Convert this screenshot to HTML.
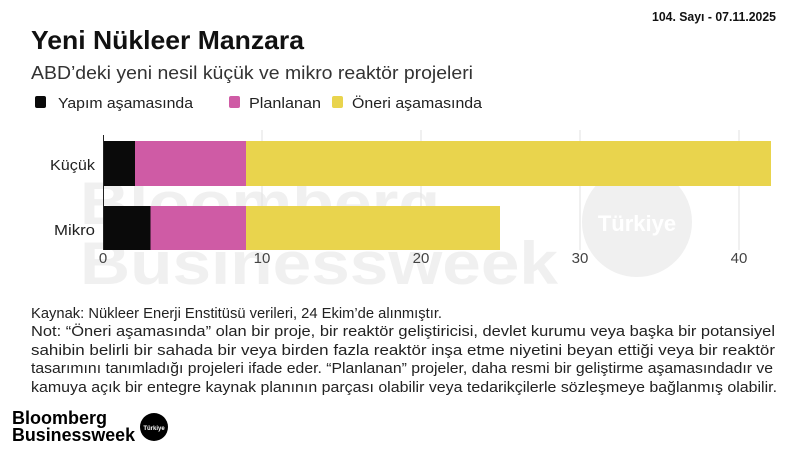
<!DOCTYPE html>
<html><head><meta charset="utf-8"><style>
html,body{margin:0;padding:0;background:#fff;}
svg{display:block}
text{font-family:"Liberation Sans",sans-serif;fill:#222}
</style></head><body>
<svg width="800" height="450" viewBox="0 0 800 450">
<rect width="800" height="450" fill="#fff"/>
<!-- watermark -->
<text x="80" y="224" font-size="60" font-weight="bold" style="fill:#f0f0f0" textLength="360" lengthAdjust="spacingAndGlyphs">Bloomberg</text>
<text x="80" y="284" font-size="60" font-weight="bold" style="fill:#f0f0f0" textLength="478" lengthAdjust="spacingAndGlyphs">Businessweek</text>
<circle cx="637" cy="222" r="55" fill="#f0f0f0"/>
<text x="637" y="231" font-size="22" font-weight="bold" text-anchor="middle" style="fill:#fff">Türkiye</text>
<!-- header -->
<text x="776" y="21" font-size="13" font-weight="bold" text-anchor="end" textLength="124" lengthAdjust="spacingAndGlyphs" style="fill:#111">104. Sayı - 07.11.2025</text>
<text x="31" y="49" font-size="26" font-weight="bold" textLength="273" lengthAdjust="spacingAndGlyphs" style="fill:#111">Yeni Nükleer Manzara</text>
<text x="31" y="79" font-size="18" textLength="442" lengthAdjust="spacingAndGlyphs" style="fill:#333">ABD’deki yeni nesil küçük ve mikro reaktör projeleri</text>
<!-- legend -->
<rect x="35" y="96" width="11" height="12" rx="2" fill="#0a0a0a"/>
<text x="58" y="108" font-size="15" textLength="135" lengthAdjust="spacingAndGlyphs">Yapım aşamasında</text>
<rect x="229" y="96" width="11" height="12" rx="2" fill="#cf5ba5"/>
<text x="249" y="108" font-size="15" textLength="72" lengthAdjust="spacingAndGlyphs">Planlanan</text>
<rect x="332" y="96" width="11" height="12" rx="2" fill="#e9d44d"/>
<text x="352" y="108" font-size="15" textLength="130" lengthAdjust="spacingAndGlyphs">Öneri aşamasında</text>
<!-- grid -->
<g stroke="#e2e2e2" stroke-width="1">
<line x1="262" y1="130" x2="262" y2="250"/>
<line x1="421" y1="130" x2="421" y2="250"/>
<line x1="580" y1="130" x2="580" y2="250"/>
<line x1="739" y1="130" x2="739" y2="250"/>
</g>
<!-- bars -->
<rect x="103.5" y="141" width="31.5" height="45" fill="#0a0a0a"/>
<rect x="135" y="141" width="111" height="45" fill="#cf5ba5"/>
<rect x="246" y="141" width="525" height="45" fill="#e9d44d"/>
<rect x="103.5" y="206" width="47" height="44" fill="#0a0a0a"/>
<rect x="150.5" y="206" width="95.5" height="44" fill="#cf5ba5"/>
<rect x="246" y="206" width="254" height="44" fill="#e9d44d"/>
<line x1="103.5" y1="135" x2="103.5" y2="250" stroke="#222" stroke-width="1"/>
<text x="95" y="170" font-size="15" text-anchor="end" textLength="45" lengthAdjust="spacingAndGlyphs">Küçük</text>
<text x="95" y="235" font-size="15" text-anchor="end" textLength="41" lengthAdjust="spacingAndGlyphs">Mikro</text>
<g font-size="15" text-anchor="middle">
<text x="103" y="263" style="fill:#444">0</text>
<text x="262" y="263" style="fill:#444">10</text>
<text x="421" y="263" style="fill:#444">20</text>
<text x="580" y="263" style="fill:#444">30</text>
<text x="739" y="263" style="fill:#444">40</text>
</g>
<!-- notes -->
<g font-size="15" style="fill:#333">
<text x="31" y="318" textLength="411" lengthAdjust="spacingAndGlyphs">Kaynak: Nükleer Enerji Enstitüsü verileri, 24 Ekim’de alınmıştır.</text>
<text x="31" y="336" textLength="744" lengthAdjust="spacingAndGlyphs">Not: “Öneri aşamasında” olan bir proje, bir reaktör geliştiricisi, devlet kurumu veya başka bir potansiyel</text>
<text x="31" y="355" textLength="744" lengthAdjust="spacingAndGlyphs">sahibin belirli bir sahada bir veya birden fazla reaktör inşa etme niyetini beyan ettiği veya bir reaktör</text>
<text x="31" y="373" textLength="742" lengthAdjust="spacingAndGlyphs">tasarımını tanımladığı projeleri ifade eder. “Planlanan” projeler, daha resmi bir geliştirme aşamasındadır ve</text>
<text x="31" y="392" textLength="746" lengthAdjust="spacingAndGlyphs">kamuya açık bir entegre kaynak planının parçası olabilir veya tedarikçilerle sözleşmeye bağlanmış olabilir.</text>
</g>
<!-- logo -->
<text x="12" y="424" font-size="18" font-weight="bold" textLength="95" lengthAdjust="spacingAndGlyphs" style="fill:#000">Bloomberg</text>
<text x="12" y="441" font-size="18" font-weight="bold" textLength="123" lengthAdjust="spacingAndGlyphs" style="fill:#000">Businessweek</text>
<circle cx="154" cy="427" r="14" fill="#000"/>
<text x="154" y="430" font-size="6" font-weight="bold" text-anchor="middle" style="fill:#fff">Türkiye</text>
</svg>
</body></html>
